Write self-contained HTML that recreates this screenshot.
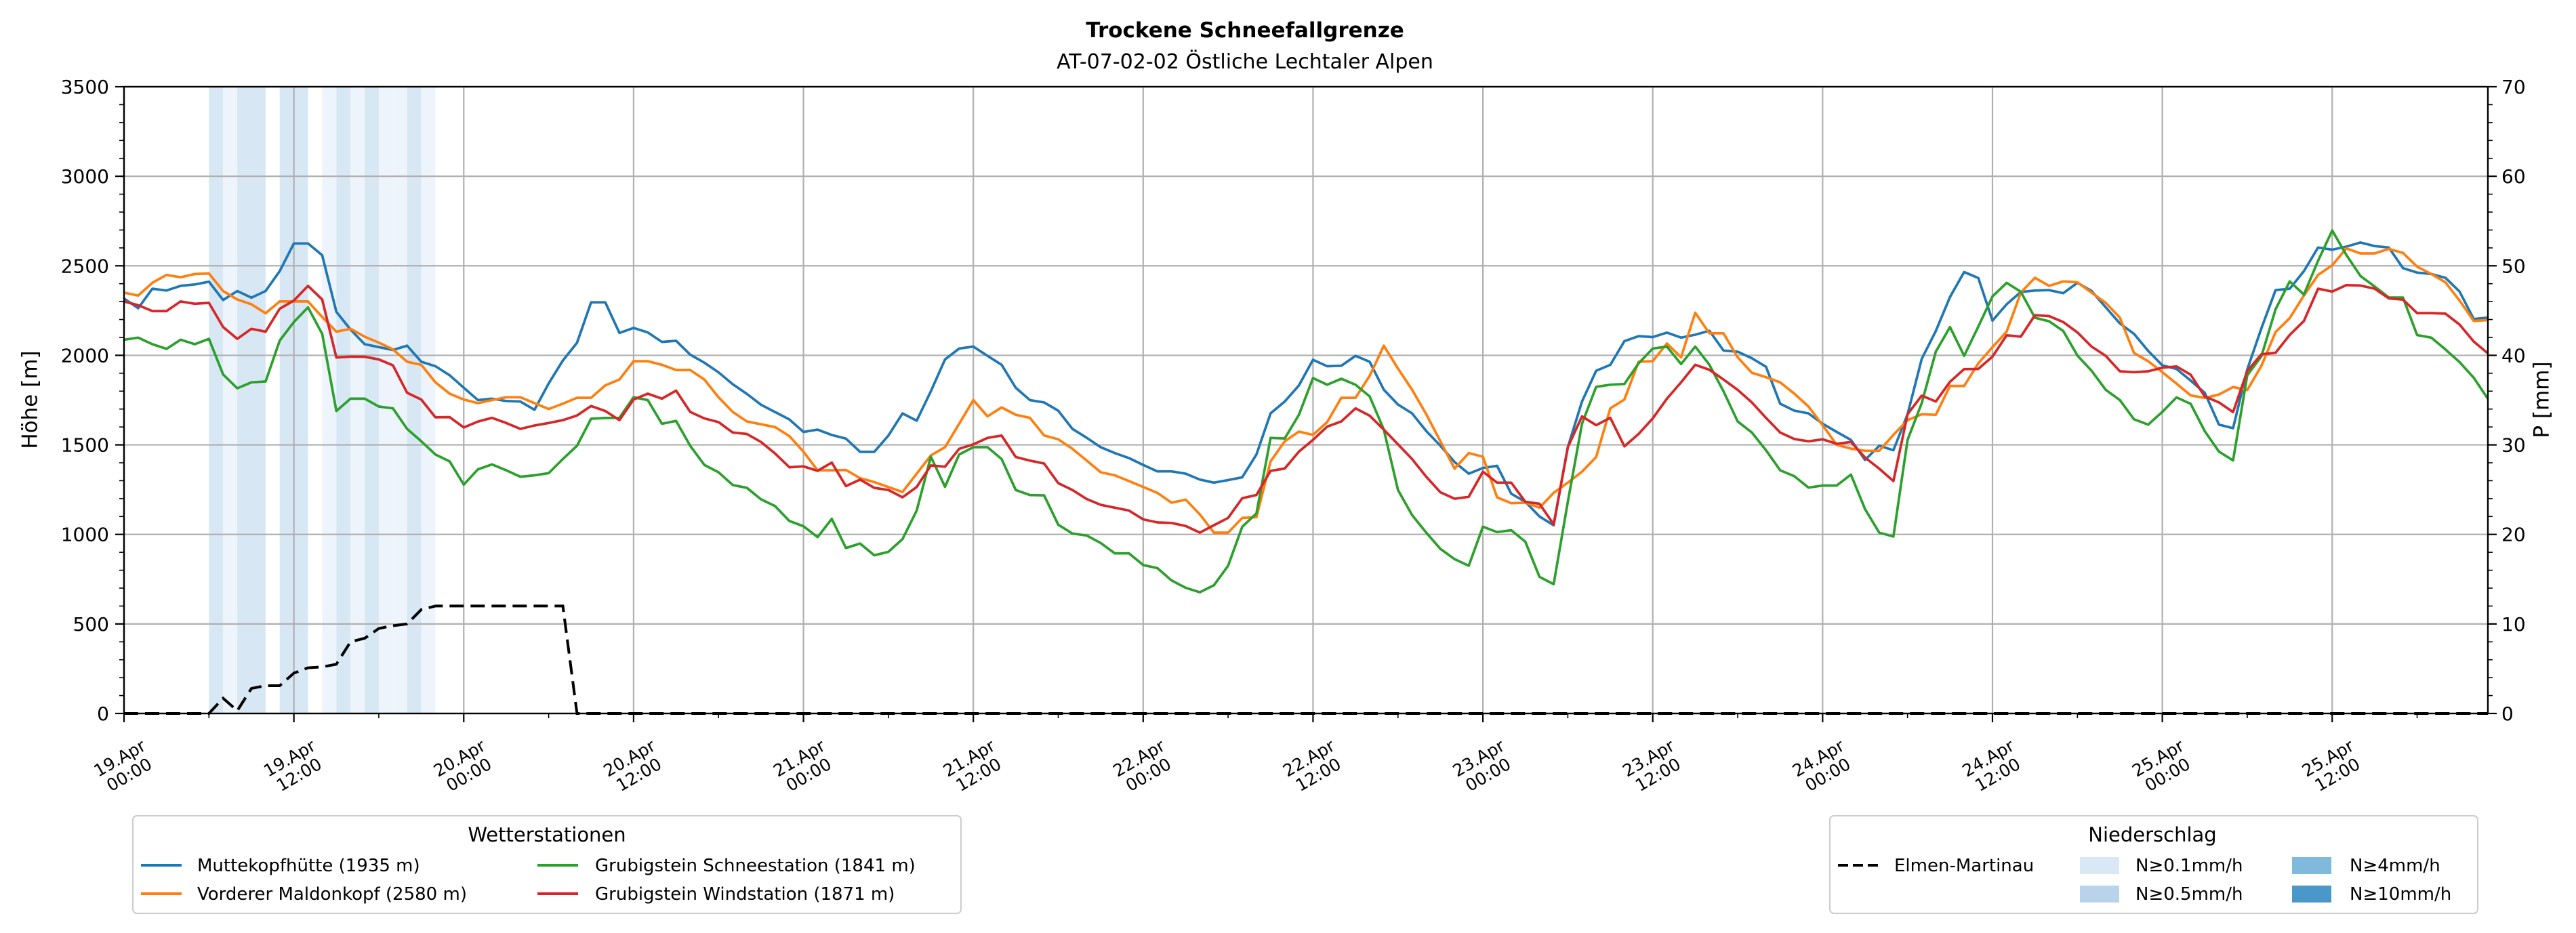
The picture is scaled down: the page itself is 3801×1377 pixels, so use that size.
<!DOCTYPE html>
<html><head><meta charset="utf-8"><title>Trockene Schneefallgrenze</title>
<style>
html,body{margin:0;padding:0;background:#fff;}
svg{display:block;font-family:"DejaVu Sans","Liberation Sans",sans-serif;}
</style></head>
<body>
<svg id="chart" width="3801" height="1377" viewBox="0 0 3801 1377" xmlns="http://www.w3.org/2000/svg">
  <rect x="0" y="0" width="3801" height="1377" fill="#fff"/>
  <text x="1837" y="55" text-anchor="middle" font-size="31" font-weight="bold">Trockene Schneefallgrenze</text>
  <text x="1837" y="101" text-anchor="middle" font-size="30">AT-07-02-02 Östliche Lechtaler Alpen</text>
  <g id="bars"></g>
  <g id="grid"></g>
  <g id="series"></g>
  <g id="axes"></g>
  <text x="46" y="590" text-anchor="middle" font-size="31" transform="rotate(-90 46 590)" dominant-baseline="middle">Höhe [m]</text>
  <text x="3752" y="590" text-anchor="middle" font-size="31" transform="rotate(-90 3752 590)" dominant-baseline="middle">P [mm]</text>
  <g id="legend-left">
    <rect x="196" y="1204" width="1222" height="144" rx="6" fill="#fff" fill-opacity="0.8" stroke="#cccccc" stroke-width="2"/>
    <text x="807" y="1242" text-anchor="middle" font-size="29">Wetterstationen</text>
    <g><line x1="208" y1="1277" x2="268" y2="1277" stroke="#1f77b4" stroke-width="4"/><text x="291" y="1286" font-size="26">Muttekopfhütte (1935 m)</text></g>
    <g><line x1="208" y1="1319" x2="268" y2="1319" stroke="#ff7f0e" stroke-width="4"/><text x="291" y="1328" font-size="26">Vorderer Maldonkopf (2580 m)</text></g>
    <g><line x1="793" y1="1277" x2="853" y2="1277" stroke="#2ca02c" stroke-width="4"/><text x="878" y="1286" font-size="26">Grubigstein Schneestation (1841 m)</text></g>
    <g><line x1="793" y1="1319" x2="853" y2="1319" stroke="#d62728" stroke-width="4"/><text x="878" y="1328" font-size="26">Grubigstein Windstation (1871 m)</text></g>
  </g>
  <g id="legend-right">
    <rect x="2700" y="1204" width="956" height="144" rx="6" fill="#fff" fill-opacity="0.8" stroke="#cccccc" stroke-width="2"/>
    <text x="3176" y="1242" text-anchor="middle" font-size="29">Niederschlag</text>
    <g><line x1="2712" y1="1277" x2="2772" y2="1277" stroke="#000" stroke-width="4" stroke-dasharray="15 7"/><text x="2795" y="1286" font-size="26">Elmen-Martinau</text></g>
    <g><rect x="3069" y="1265" width="58" height="25" fill="#dae8f5"/><text x="3151" y="1286" font-size="26">N≥0.1mm/h</text></g>
    <g><rect x="3069" y="1307" width="58" height="25" fill="#b9d4ea"/><text x="3151" y="1328" font-size="26">N≥0.5mm/h</text></g>
    <g><rect x="3382" y="1265" width="58" height="25" fill="#7fb9dc"/><text x="3467" y="1286" font-size="26">N≥4mm/h</text></g>
    <g><rect x="3382" y="1307" width="58" height="25" fill="#4a98c9"/><text x="3467" y="1328" font-size="26">N≥10mm/h</text></g>
  </g>
</svg>
<script>
// ---- data (hourly, hour 0 = 19.Apr 00:00) ----
const hours = [];
for (let i = 0; i < 168; i++) hours.push(i);
const xTickLabels = ["19.Apr\n00:00","19.Apr\n12:00","20.Apr\n00:00","20.Apr\n12:00","21.Apr\n00:00","21.Apr\n12:00","22.Apr\n00:00","22.Apr\n12:00","23.Apr\n00:00","23.Apr\n12:00","24.Apr\n00:00","24.Apr\n12:00","25.Apr\n00:00","25.Apr\n12:00"];
const yTicks = [0,500,1000,1500,2000,2500,3000,3500];
const y2Ticks = [0,10,20,30,40,50,60,70];
const muttekopf = [2317,2263,2372,2362,2388,2396,2411,2309,2359,2322,2359,2470,2625,2625,2559,2243,2144,2062,2046,2030,2054,1964,1939,1889,1819,1750,1758,1745,1742,1696,
1843,1971,2070,2296,2296,2125,2153,2128,2075,2081,2004,1959,1905,1839,1785,1724,1683,1642,1572,1585,1555,1535,1461,1461,1552,1676,1635,1799,1977,
2038,2049,1997,1947,1819,1750,1737,1691,1589,1540,1487,1454,1426,1388,1352,1352,1339,1306,1289,1303,1319,1446,1676,1742,1832,1975,1939,1942,1997,
1964,1808,1725,1676,1577,1495,1404,1339,1371,1383,1227,1182,1100,1051,1487,1742,1914,1947,2079,2107,2102,2127,2099,2115,2137,2027,2020,1984,1936,
1730,1691,1676,1618,1572,1528,1416,1495,1470,1671,1980,2136,2326,2465,2432,2194,2285,2354,2362,2364,2347,2405,2359,2268,2178,2120,2025,1944,
1924,1859,1790,1613,1593,1921,2151,2364,2372,2470,2602,2590,2607,2630,2610,2602,2487,2462,2454,2433,2356,2203,2211];
const maldonkopf = [2350,2334,2405,2449,2436,2454,2457,2359,2312,2285,2235,2301,2301,2301,2214,2132,2148,2104,2071,2033,1964,1947,1849,1786,1753,1733,1750,1766,1766,1733,
1700,1730,1763,1763,1832,1865,1967,1967,1947,1918,1918,1865,1766,1684,1631,1615,1599,1549,1462,1358,1358,1360,1314,1292,1264,1237,1339,1441,1487,
1618,1750,1659,1709,1668,1651,1553,1531,1478,1413,1347,1330,1298,1265,1232,1177,1194,1112,1010,1010,1092,1096,1408,1520,1574,1556,1627,1763,1763,
1885,2054,1926,1808,1671,1520,1367,1454,1434,1207,1174,1177,1149,1232,1289,1350,1432,1704,1753,1964,1967,2066,1989,2238,2123,2123,1989,1903,1878,
1849,1786,1714,1610,1500,1479,1467,1467,1556,1638,1671,1668,1829,1829,1955,2046,2132,2350,2433,2388,2413,2408,2350,2293,2210,2013,1967,1906,
1842,1776,1762,1781,1823,1806,1941,2130,2208,2334,2449,2503,2597,2569,2569,2594,2572,2495,2454,2408,2306,2192,2197];
const schneestation = [2087,2099,2062,2036,2087,2062,2092,1893,1816,1849,1854,2082,2186,2268,2120,1689,1758,1758,1714,1704,1589,1520,1446,1408,1278,1363,1391,1358,1322,1330,
1342,1421,1495,1646,1650,1651,1766,1750,1618,1634,1495,1388,1347,1276,1260,1196,1158,1075,1046,985,1087,924,949,883,903,974,1133,1434,1266,
1446,1487,1487,1421,1248,1220,1218,1054,1005,994,952,894,894,829,812,743,702,677,716,825,1043,1117,1539,1536,1668,1873,1836,1869,1836,
1771,1585,1248,1108,1010,919,862,825,1043,1013,1023,959,763,722,1182,1618,1824,1836,1840,1955,2038,2049,1951,2049,1947,1799,1631,1569,1470,
1358,1325,1261,1273,1273,1334,1141,1010,988,1528,1733,2021,2158,1997,2161,2329,2405,2355,2210,2190,2136,1999,1914,1807,1750,1643,1613,1684,
1765,1729,1576,1462,1413,1888,1995,2257,2413,2339,2528,2697,2561,2443,2384,2323,2323,2113,2099,2033,1962,1875,1757];
const windstation = [2301,2280,2247,2247,2301,2288,2293,2158,2092,2148,2132,2260,2306,2388,2312,1988,1993,1992,1977,1944,1791,1753,1654,1655,1597,1630,1651,1622,1589,1608,
1622,1638,1664,1717,1689,1638,1753,1786,1758,1803,1684,1648,1627,1569,1561,1516,1451,1375,1380,1355,1401,1270,1306,1260,1248,1207,1265,1385,1378,
1478,1503,1539,1552,1432,1412,1396,1286,1248,1198,1165,1149,1133,1084,1067,1064,1047,1010,1051,1092,1202,1220,1355,1368,1462,1528,1602,1631,1704,
1663,1585,1503,1421,1322,1235,1199,1210,1350,1289,1289,1182,1171,1056,1487,1659,1610,1651,1492,1561,1648,1758,1849,1947,1919,1865,1807,1737,1651,
1569,1533,1520,1531,1506,1516,1429,1367,1298,1671,1775,1742,1852,1923,1924,1993,2112,2104,2224,2219,2186,2128,2049,1997,1911,1906,1911,1931,
1938,1892,1770,1737,1683,1912,2006,2014,2114,2192,2372,2356,2392,2390,2372,2318,2311,2236,2236,2233,2172,2077,2011];
// hourly precipitation intensity mm/h (first 22 hours; rest dry)
const precip = [0,0,0,0,0,0,0.3,0.05,0.3,0.3,0,0.3,0.3,0,0.05,0.3,0.05,0.3,0.05,0.05,0.3,0.05];
// cumulative precipitation Elmen-Martinau [mm] (32 readings, then 136 zero hours)
const cumPrecip = [0,0,0,0,0,0,0,1.7,0.3,2.8,3.1,3.1,4.5,5.1,5.2,5.5,8.0,8.4,9.5,9.8,10.0,11.6,12,12,12,12,12,12,12,12,12,12,
0,0,0,0,0,0,0,0,0,0,0,0,0,0,0,0,0,
0,0,0,0,0,0,0,0,0,0,0,0,0,0,0,0,0,
0,0,0,0,0,0,0,0,0,0,0,0,0,0,0,0,0,
0,0,0,0,0,0,0,0,0,0,0,0,0,0,0,0,0,
0,0,0,0,0,0,0,0,0,0,0,0,0,0,0,0,0,
0,0,0,0,0,0,0,0,0,0,0,0,0,0,0,0,0,
0,0,0,0,0,0,0,0,0,0,0,0,0,0,0,0,0,
0,0,0,0,0,0,0,0,0,0,0,0,0,0,0,0,0];

// ---- scales ----
const L = 183, R = 3671, T = 128, B = 1053;
const xMax = 167;
function xs(h){ return L + h * (R - L) / xMax; }
function ys(m){ return B - m * (B - T) / 3500; }
function yp(mm){ return B - mm * (B - T) / 70; }
const NS = "http://www.w3.org/2000/svg";
function mk(tag, attrs, parent){
  const e = document.createElementNS(NS, tag);
  for (const k in attrs) e.setAttribute(k, attrs[k]);
  parent.appendChild(e);
  return e;
}

// precipitation bars
const gb = document.getElementById('bars');
for (let i = 0; i < precip.length; i++) {
  const v = precip[i];
  if (!v) continue;
  const r = mk('rect', {x: xs(i), y: T, width: xs(i+1) - xs(i), height: B - T,
    fill: v >= 0.1 ? '#d8e7f4' : '#edf4fb'}, gb);
  
  
}

// grid
const gg = document.getElementById('grid');
for (const t of yTicks) {
  const l = mk('line', {x1: L, x2: R, y1: ys(t), y2: ys(t), stroke: '#b0b0b0', 'stroke-width': 2.2}, gg);
  
  
}
for (let i = 0; i < xTickLabels.length; i++) {
  const l = mk('line', {x1: xs(i*12), x2: xs(i*12), y1: T, y2: B, stroke: '#b0b0b0', 'stroke-width': 2.2}, gg);
  
  
}

// series
const gs = document.getElementById('series');
function linePath(arr, yf){
  return arr.map((v, i) => (i ? 'L' : 'M') + xs(hours[i]).toFixed(1) + ' ' + yf(v).toFixed(1)).join(' ');
}
const dash = mk('path', {d: linePath(cumPrecip, yp), fill: 'none', stroke: '#000', 'stroke-width': 4, 'stroke-dasharray': '21 10'}, gs);


const seriesList = [[muttekopf, '#1f77b4', 'line-muttekopf'], [maldonkopf, '#ff7f0e', 'line-maldonkopf'],
  [schneestation, '#2ca02c', 'line-schneestation'], [windstation, '#d62728', 'line-windstation']];
for (const [arr, col, nm] of seriesList) {
  const p = mk('path', {d: linePath(arr, ys), fill: 'none', stroke: col, 'stroke-width': 3.7, 'stroke-linejoin': 'round'}, gs);
  
  
}

// axes
const ga = document.getElementById('axes');
mk('rect', {x: L, y: T, width: R - L, height: B - T, fill: 'none', stroke: '#000', 'stroke-width': 2.4}, ga);
for (const t of yTicks) {
  mk('line', {x1: L - 13, x2: L, y1: ys(t), y2: ys(t), stroke: '#000', 'stroke-width': 2.2}, ga);
  const tx = mk('text', {x: L - 22, y: ys(t) + 10, 'text-anchor': 'end', 'font-size': 28}, ga);
  tx.textContent = t;
  
  
}
for (let m = 100; m < 3500; m += 100) {
  if (m % 500 === 0) continue;
  mk('line', {x1: L - 7, x2: L, y1: ys(m), y2: ys(m), stroke: '#000', 'stroke-width': 1.6}, ga);
}
for (const t of y2Ticks) {
  mk('line', {x1: R, x2: R + 13, y1: yp(t), y2: yp(t), stroke: '#000', 'stroke-width': 2.2}, ga);
  const tx = mk('text', {x: R + 20, y: yp(t) + 10, 'text-anchor': 'start', 'font-size': 28}, ga);
  tx.textContent = t;
  
  
}
for (let m = 2; m < 70; m += 2) {
  if (m % 10 === 0) continue;
  mk('line', {x1: R, x2: R + 7, y1: yp(m), y2: yp(m), stroke: '#000', 'stroke-width': 1.6}, ga);
}
for (let h = 6; h < xMax; h += 12) {
  mk('line', {x1: xs(h), x2: xs(h), y1: B, y2: B + 7, stroke: '#000', 'stroke-width': 1.6}, ga);
}
for (let i = 0; i < xTickLabels.length; i++) {
  const x = xs(i * 12);
  mk('line', {x1: x, x2: x, y1: B, y2: B + 13, stroke: '#000', 'stroke-width': 2.2}, ga);
  const parts = xTickLabels[i].split('\n');
  const cy = 1130;
  const tx = mk('text', {x: x, y: cy, 'text-anchor': 'middle', 'font-size': 25, transform: 'rotate(-30 ' + x + ' ' + cy + ')'}, ga);
  
  
  const t1 = mk('tspan', {x: x, dy: -4}, tx); t1.textContent = parts[0];
  const t2 = mk('tspan', {x: x, dy: 28}, tx); t2.textContent = parts[1];
}
</script>
</body></html>
